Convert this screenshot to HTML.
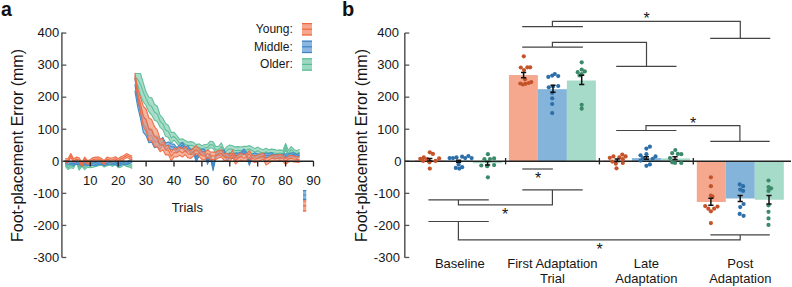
<!DOCTYPE html>
<html><head><meta charset="utf-8"><style>
html,body{margin:0;padding:0;background:#fff;width:792px;height:287px;overflow:hidden}
svg{display:block}
</style></head><body>
<svg width="792" height="287" viewBox="0 0 792 287">
<rect width="792" height="287" fill="#fff"/>
<text x="1" y="15.7" font-size="19.5" font-weight="bold" font-family="Liberation Sans, sans-serif" fill="#111">a</text>
<text x="342" y="15.7" font-size="20" font-weight="bold" font-family="Liberation Sans, sans-serif" fill="#111">b</text>
<text transform="translate(23.4,145.5) rotate(-90)" text-anchor="middle" font-size="16" font-family="Liberation Sans, sans-serif" fill="#161616">Foot-placement Error (mm)</text>
<text transform="translate(366.8,145.5) rotate(-90)" text-anchor="middle" font-size="16" font-family="Liberation Sans, sans-serif" fill="#161616">Foot-placement Error (mm)</text>
<line x1="61.9" y1="32.5" x2="61.9" y2="257.6" stroke="#555" stroke-width="1.5"/>
<line x1="61.9" y1="257.48" x2="66.3" y2="257.48" stroke="#555" stroke-width="1.3"/>
<text x="59.2" y="261.78" text-anchor="end" font-size="13" font-family="Liberation Sans, sans-serif" fill="#161616">-300</text>
<line x1="61.9" y1="225.42" x2="66.3" y2="225.42" stroke="#555" stroke-width="1.3"/>
<text x="59.2" y="229.72" text-anchor="end" font-size="13" font-family="Liberation Sans, sans-serif" fill="#161616">-200</text>
<line x1="61.9" y1="193.36" x2="66.3" y2="193.36" stroke="#555" stroke-width="1.3"/>
<text x="59.2" y="197.66" text-anchor="end" font-size="13" font-family="Liberation Sans, sans-serif" fill="#161616">-100</text>
<line x1="61.9" y1="161.30" x2="66.3" y2="161.30" stroke="#555" stroke-width="1.3"/>
<text x="59.2" y="165.60" text-anchor="end" font-size="13" font-family="Liberation Sans, sans-serif" fill="#161616">0</text>
<line x1="61.9" y1="129.24" x2="66.3" y2="129.24" stroke="#555" stroke-width="1.3"/>
<text x="59.2" y="133.54" text-anchor="end" font-size="13" font-family="Liberation Sans, sans-serif" fill="#161616">100</text>
<line x1="61.9" y1="97.18" x2="66.3" y2="97.18" stroke="#555" stroke-width="1.3"/>
<text x="59.2" y="101.48" text-anchor="end" font-size="13" font-family="Liberation Sans, sans-serif" fill="#161616">200</text>
<line x1="61.9" y1="65.12" x2="66.3" y2="65.12" stroke="#555" stroke-width="1.3"/>
<text x="59.2" y="69.42" text-anchor="end" font-size="13" font-family="Liberation Sans, sans-serif" fill="#161616">300</text>
<line x1="61.9" y1="33.06" x2="66.3" y2="33.06" stroke="#555" stroke-width="1.3"/>
<text x="59.2" y="37.36" text-anchor="end" font-size="13" font-family="Liberation Sans, sans-serif" fill="#161616">400</text>
<polygon points="65.2,161.9 68.0,165.8 70.8,163.9 73.6,164.5 76.3,158.1 79.1,166.4 81.9,162.6 84.7,165.8 87.5,163.2 90.3,163.9 93.1,163.2 95.9,162.6 98.7,161.9 101.5,161.3 104.2,163.2 107.0,161.9 109.8,161.3 112.6,162.6 115.4,160.7 118.2,163.9 121.0,163.2 123.8,161.3 126.6,162.6 129.4,163.2 132.2,164.5 132.2,168.4 129.4,167.1 126.6,166.4 123.8,165.1 121.0,167.1 118.2,167.7 115.4,164.5 112.6,166.4 109.8,165.1 107.0,165.8 104.2,167.1 101.5,165.1 98.7,165.8 95.9,166.4 93.1,167.1 90.3,167.7 87.5,167.1 84.7,169.6 81.9,166.4 79.1,170.3 76.3,161.9 73.6,168.4 70.8,167.7 68.0,169.6 65.2,165.8" fill="#93d4bc" fill-opacity="0.8" stroke="none"/>
<polyline points="65.2,161.9 68.0,165.8 70.8,163.9 73.6,164.5 76.3,158.1 79.1,166.4 81.9,162.6 84.7,165.8 87.5,163.2 90.3,163.9 93.1,163.2 95.9,162.6 98.7,161.9 101.5,161.3 104.2,163.2 107.0,161.9 109.8,161.3 112.6,162.6 115.4,160.7 118.2,163.9 121.0,163.2 123.8,161.3 126.6,162.6 129.4,163.2 132.2,164.5" fill="none" stroke="#5bbd98" stroke-width="1.1" stroke-opacity="0.95" stroke-linejoin="round"/>
<polyline points="65.2,165.8 68.0,169.6 70.8,167.7 73.6,168.4 76.3,161.9 79.1,170.3 81.9,166.4 84.7,169.6 87.5,167.1 90.3,167.7 93.1,167.1 95.9,166.4 98.7,165.8 101.5,165.1 104.2,167.1 107.0,165.8 109.8,165.1 112.6,166.4 115.4,164.5 118.2,167.7 121.0,167.1 123.8,165.1 126.6,166.4 129.4,167.1 132.2,168.4" fill="none" stroke="#5bbd98" stroke-width="1.1" stroke-opacity="0.95" stroke-linejoin="round"/>
<polyline points="65.2,163.9 68.0,167.7 70.8,165.8 73.6,166.4 76.3,160.0 79.1,168.4 81.9,164.5 84.7,167.7 87.5,165.1 90.3,165.8 93.1,165.1 95.9,164.5 98.7,163.9 101.5,163.2 104.2,165.1 107.0,163.9 109.8,163.2 112.6,164.5 115.4,162.6 118.2,165.8 121.0,165.1 123.8,163.2 126.6,164.5 129.4,165.1 132.2,166.4" fill="none" stroke="#5bbd98" stroke-width="1.1" stroke-opacity="0.95" stroke-linejoin="round"/>
<polygon points="134.9,73.5 137.7,73.5 140.5,73.5 143.3,82.8 146.1,92.1 148.9,97.2 151.7,97.8 154.5,104.2 157.3,106.2 160.1,115.1 162.8,118.0 165.6,123.5 168.4,125.4 171.2,132.4 174.0,132.4 176.8,135.5 179.6,139.4 182.4,138.8 185.2,140.5 187.9,142.0 190.7,141.6 193.5,142.3 196.3,144.6 199.1,143.9 201.9,145.8 204.7,144.5 207.5,144.2 210.3,141.2 213.1,141.7 215.8,146.5 218.6,146.4 221.4,142.9 224.2,149.8 227.0,146.6 229.8,144.9 232.6,145.8 235.4,146.9 238.2,146.6 241.0,147.0 243.8,146.3 246.5,146.4 249.3,145.4 252.1,146.9 254.9,148.6 257.7,147.1 260.5,148.8 263.3,149.7 266.1,148.3 268.9,149.9 271.6,149.1 274.4,149.6 277.2,150.3 280.0,149.9 282.8,150.6 285.6,143.5 288.4,150.5 291.2,146.6 294.0,149.4 296.8,150.9 299.6,149.2 299.6,155.0 296.8,156.8 294.0,155.4 291.2,152.6 288.4,156.7 285.6,149.7 282.8,157.0 280.0,156.4 277.2,156.8 274.4,156.3 271.6,155.9 268.9,156.8 266.1,155.3 263.3,156.7 260.5,155.9 257.7,154.2 254.9,155.8 252.1,154.1 249.3,152.7 246.5,153.8 243.8,153.7 241.0,154.5 238.2,154.2 235.4,154.5 232.6,153.4 229.8,152.6 227.0,154.1 224.2,157.2 221.4,150.1 218.6,153.5 215.8,153.4 213.1,148.5 210.3,147.7 207.5,150.6 204.7,151.0 201.9,152.5 199.1,150.7 196.3,151.5 193.5,149.4 190.7,148.8 187.9,149.2 185.2,147.8 182.4,146.2 179.6,146.9 176.8,143.1 174.0,140.1 171.2,143.3 168.4,137.6 165.6,136.3 162.8,129.6 160.1,127.3 157.3,121.5 154.5,120.3 151.7,115.1 148.9,111.9 146.1,105.5 143.3,102.0 140.5,95.3 137.7,85.0 134.9,81.2" fill="#93d4bc" fill-opacity="0.8" stroke="none"/>
<polyline points="134.9,73.5 137.7,73.5 140.5,73.5 143.3,82.8 146.1,92.1 148.9,97.2 151.7,97.8 154.5,104.2 157.3,106.2 160.1,115.1 162.8,118.0 165.6,123.5 168.4,125.4 171.2,132.4 174.0,132.4 176.8,135.5 179.6,139.4 182.4,138.8 185.2,140.5 187.9,142.0 190.7,141.6 193.5,142.3 196.3,144.6 199.1,143.9 201.9,145.8 204.7,144.5 207.5,144.2 210.3,141.2 213.1,141.7 215.8,146.5 218.6,146.4 221.4,142.9 224.2,149.8 227.0,146.6 229.8,144.9 232.6,145.8 235.4,146.9 238.2,146.6 241.0,147.0 243.8,146.3 246.5,146.4 249.3,145.4 252.1,146.9 254.9,148.6 257.7,147.1 260.5,148.8 263.3,149.7 266.1,148.3 268.9,149.9 271.6,149.1 274.4,149.6 277.2,150.3 280.0,149.9 282.8,150.6 285.6,143.5 288.4,150.5 291.2,146.6 294.0,149.4 296.8,150.9 299.6,149.2" fill="none" stroke="#5bbd98" stroke-width="1.1" stroke-opacity="0.95" stroke-linejoin="round"/>
<polyline points="134.9,81.2 137.7,85.0 140.5,95.3 143.3,102.0 146.1,105.5 148.9,111.9 151.7,115.1 154.5,120.3 157.3,121.5 160.1,127.3 162.8,129.6 165.6,136.3 168.4,137.6 171.2,143.3 174.0,140.1 176.8,143.1 179.6,146.9 182.4,146.2 185.2,147.8 187.9,149.2 190.7,148.8 193.5,149.4 196.3,151.5 199.1,150.7 201.9,152.5 204.7,151.0 207.5,150.6 210.3,147.7 213.1,148.5 215.8,153.4 218.6,153.5 221.4,150.1 224.2,157.2 227.0,154.1 229.8,152.6 232.6,153.4 235.4,154.5 238.2,154.2 241.0,154.5 243.8,153.7 246.5,153.8 249.3,152.7 252.1,154.1 254.9,155.8 257.7,154.2 260.5,155.9 263.3,156.7 266.1,155.3 268.9,156.8 271.6,155.9 274.4,156.3 277.2,156.8 280.0,156.4 282.8,157.0 285.6,149.7 288.4,156.7 291.2,152.6 294.0,155.4 296.8,156.8 299.6,155.0" fill="none" stroke="#5bbd98" stroke-width="1.1" stroke-opacity="0.95" stroke-linejoin="round"/>
<polyline points="134.9,77.3 137.7,79.2 140.5,84.4 143.3,92.4 146.1,98.8 148.9,104.6 151.7,106.5 154.5,112.2 157.3,113.9 160.1,121.2 162.8,123.8 165.6,129.9 168.4,131.5 171.2,137.9 174.0,136.3 176.8,139.3 179.6,143.1 182.4,142.5 185.2,144.2 187.9,145.6 190.7,145.2 193.5,145.8 196.3,148.0 199.1,147.3 201.9,149.2 204.7,147.8 207.5,147.4 210.3,144.5 213.1,145.1 215.8,149.9 218.6,149.9 221.4,146.5 224.2,153.5 227.0,150.3 229.8,148.8 232.6,149.6 235.4,150.7 238.2,150.4 241.0,150.8 243.8,150.0 246.5,150.1 249.3,149.1 252.1,150.5 254.9,152.2 257.7,150.7 260.5,152.4 263.3,153.2 266.1,151.8 268.9,153.4 271.6,152.5 274.4,153.0 277.2,153.5 280.0,153.1 282.8,153.8 285.6,146.6 288.4,153.6 291.2,149.6 294.0,152.4 296.8,153.8 299.6,152.1" fill="none" stroke="#5bbd98" stroke-width="1.1" stroke-opacity="0.95" stroke-linejoin="round"/>
<polygon points="65.2,160.3 68.0,161.0 70.8,161.6 73.6,162.3 76.3,161.0 79.1,161.6 81.9,162.9 84.7,161.3 87.5,162.3 90.3,161.9 93.1,162.3 95.9,162.6 98.7,161.6 101.5,161.0 104.2,162.6 107.0,161.6 109.8,160.7 112.6,161.6 115.4,161.3 118.2,163.2 121.0,161.9 123.8,161.0 126.6,161.6 129.4,160.3 132.2,159.1 132.2,162.3 129.4,163.5 126.6,164.8 123.8,164.2 121.0,165.1 118.2,166.4 115.4,164.5 112.6,164.8 109.8,163.9 107.0,164.8 104.2,165.8 101.5,164.2 98.7,164.8 95.9,165.8 93.1,165.5 90.3,165.1 87.5,165.5 84.7,164.5 81.9,166.1 79.1,164.8 76.3,164.2 73.6,165.5 70.8,164.8 68.0,164.2 65.2,163.5" fill="#7eb0dc" fill-opacity="0.8" stroke="none"/>
<polyline points="65.2,160.3 68.0,161.0 70.8,161.6 73.6,162.3 76.3,161.0 79.1,161.6 81.9,162.9 84.7,161.3 87.5,162.3 90.3,161.9 93.1,162.3 95.9,162.6 98.7,161.6 101.5,161.0 104.2,162.6 107.0,161.6 109.8,160.7 112.6,161.6 115.4,161.3 118.2,163.2 121.0,161.9 123.8,161.0 126.6,161.6 129.4,160.3 132.2,159.1" fill="none" stroke="#3a86c6" stroke-width="1.1" stroke-opacity="0.95" stroke-linejoin="round"/>
<polyline points="65.2,163.5 68.0,164.2 70.8,164.8 73.6,165.5 76.3,164.2 79.1,164.8 81.9,166.1 84.7,164.5 87.5,165.5 90.3,165.1 93.1,165.5 95.9,165.8 98.7,164.8 101.5,164.2 104.2,165.8 107.0,164.8 109.8,163.9 112.6,164.8 115.4,164.5 118.2,166.4 121.0,165.1 123.8,164.2 126.6,164.8 129.4,163.5 132.2,162.3" fill="none" stroke="#3a86c6" stroke-width="1.1" stroke-opacity="0.95" stroke-linejoin="round"/>
<polyline points="65.2,161.9 68.0,162.6 70.8,163.2 73.6,163.9 76.3,162.6 79.1,163.2 81.9,164.5 84.7,162.9 87.5,163.9 90.3,163.5 93.1,163.9 95.9,164.2 98.7,163.2 101.5,162.6 104.2,164.2 107.0,163.2 109.8,162.3 112.6,163.2 115.4,162.9 118.2,164.8 121.0,163.5 123.8,162.6 126.6,163.2 129.4,161.9 132.2,160.7" fill="none" stroke="#3a86c6" stroke-width="1.1" stroke-opacity="0.95" stroke-linejoin="round"/>
<polygon points="134.9,77.9 137.7,94.0 140.5,104.6 143.3,116.4 146.1,119.6 148.9,128.6 151.7,129.2 154.5,136.3 157.3,136.0 160.1,140.5 162.8,137.3 165.6,143.0 168.4,141.9 171.2,144.0 174.0,144.1 176.8,147.6 179.6,145.1 182.4,142.4 185.2,147.1 187.9,145.5 190.7,149.7 193.5,148.9 196.3,156.8 199.1,150.9 201.9,149.1 204.7,149.4 207.5,159.6 210.3,153.0 213.1,165.9 215.8,153.1 218.6,150.7 221.4,151.3 224.2,150.0 227.0,156.6 229.8,153.3 232.6,154.0 235.4,152.9 238.2,153.1 241.0,152.2 243.8,149.0 246.5,152.2 249.3,161.1 252.1,154.0 254.9,153.1 257.7,154.0 260.5,154.0 263.3,153.7 266.1,153.2 268.9,153.1 271.6,152.7 274.4,155.0 277.2,154.2 280.0,155.0 282.8,154.1 285.6,153.9 288.4,154.3 291.2,153.1 294.0,152.7 296.8,154.7 299.6,152.9 299.6,156.8 296.8,158.5 294.0,156.6 291.2,157.1 288.4,158.2 285.6,157.9 282.8,158.1 280.0,159.1 277.2,158.3 274.4,159.1 271.6,156.8 268.9,157.3 266.1,157.4 263.3,157.9 260.5,158.2 257.7,158.3 254.9,157.4 252.1,158.4 249.3,165.4 246.5,156.6 243.8,153.4 241.0,156.6 238.2,157.6 235.4,157.4 232.6,158.5 229.8,157.9 227.0,161.2 224.2,154.6 221.4,156.0 218.6,155.4 215.8,157.9 213.1,170.6 210.3,157.8 207.5,164.4 204.7,154.2 201.9,153.9 199.1,155.8 196.3,161.7 193.5,153.9 190.7,154.6 187.9,150.5 185.2,152.1 182.4,147.5 179.6,150.2 176.8,152.7 174.0,149.6 171.2,149.8 168.4,148.0 165.6,149.4 162.8,144.9 160.1,149.4 157.3,146.2 154.5,147.8 151.7,142.1 148.9,142.7 146.1,135.7 143.3,132.4 140.5,118.7 137.7,106.8 134.9,90.8" fill="#7eb0dc" fill-opacity="0.8" stroke="none"/>
<polyline points="134.9,77.9 137.7,94.0 140.5,104.6 143.3,116.4 146.1,119.6 148.9,128.6 151.7,129.2 154.5,136.3 157.3,136.0 160.1,140.5 162.8,137.3 165.6,143.0 168.4,141.9 171.2,144.0 174.0,144.1 176.8,147.6 179.6,145.1 182.4,142.4 185.2,147.1 187.9,145.5 190.7,149.7 193.5,148.9 196.3,156.8 199.1,150.9 201.9,149.1 204.7,149.4 207.5,159.6 210.3,153.0 213.1,165.9 215.8,153.1 218.6,150.7 221.4,151.3 224.2,150.0 227.0,156.6 229.8,153.3 232.6,154.0 235.4,152.9 238.2,153.1 241.0,152.2 243.8,149.0 246.5,152.2 249.3,161.1 252.1,154.0 254.9,153.1 257.7,154.0 260.5,154.0 263.3,153.7 266.1,153.2 268.9,153.1 271.6,152.7 274.4,155.0 277.2,154.2 280.0,155.0 282.8,154.1 285.6,153.9 288.4,154.3 291.2,153.1 294.0,152.7 296.8,154.7 299.6,152.9" fill="none" stroke="#3a86c6" stroke-width="1.1" stroke-opacity="0.95" stroke-linejoin="round"/>
<polyline points="134.9,90.8 137.7,106.8 140.5,118.7 143.3,132.4 146.1,135.7 148.9,142.7 151.7,142.1 154.5,147.8 157.3,146.2 160.1,149.4 162.8,144.9 165.6,149.4 168.4,148.0 171.2,149.8 174.0,149.6 176.8,152.7 179.6,150.2 182.4,147.5 185.2,152.1 187.9,150.5 190.7,154.6 193.5,153.9 196.3,161.7 199.1,155.8 201.9,153.9 204.7,154.2 207.5,164.4 210.3,157.8 213.1,170.6 215.8,157.9 218.6,155.4 221.4,156.0 224.2,154.6 227.0,161.2 229.8,157.9 232.6,158.5 235.4,157.4 238.2,157.6 241.0,156.6 243.8,153.4 246.5,156.6 249.3,165.4 252.1,158.4 254.9,157.4 257.7,158.3 260.5,158.2 263.3,157.9 266.1,157.4 268.9,157.3 271.6,156.8 274.4,159.1 277.2,158.3 280.0,159.1 282.8,158.1 285.6,157.9 288.4,158.2 291.2,157.1 294.0,156.6 296.8,158.5 299.6,156.8" fill="none" stroke="#3a86c6" stroke-width="1.1" stroke-opacity="0.95" stroke-linejoin="round"/>
<polyline points="134.9,84.4 137.7,100.4 140.5,111.6 143.3,124.4 146.1,127.6 148.9,135.7 151.7,135.7 154.5,142.1 157.3,141.1 160.1,144.9 162.8,141.1 165.6,146.2 168.4,144.9 171.2,146.9 174.0,146.9 176.8,150.2 179.6,147.7 182.4,145.0 185.2,149.6 187.9,148.0 190.7,152.2 193.5,151.4 196.3,159.2 199.1,153.4 201.9,151.5 204.7,151.8 207.5,162.0 210.3,155.4 213.1,168.2 215.8,155.5 218.6,153.1 221.4,153.6 224.2,152.3 227.0,158.9 229.8,155.6 232.6,156.2 235.4,155.2 238.2,155.3 241.0,154.4 243.8,151.2 246.5,154.4 249.3,163.2 252.1,156.2 254.9,155.2 257.7,156.2 260.5,156.1 263.3,155.8 266.1,155.3 268.9,155.2 271.6,154.7 274.4,157.1 277.2,156.3 280.0,157.0 282.8,156.1 285.6,155.9 288.4,156.2 291.2,155.1 294.0,154.6 296.8,156.6 299.6,154.8" fill="none" stroke="#3a86c6" stroke-width="1.1" stroke-opacity="0.95" stroke-linejoin="round"/>
<polygon points="65.2,158.7 68.0,158.7 70.8,153.6 73.6,158.7 76.3,157.1 79.1,157.8 81.9,162.6 84.7,157.1 87.5,160.7 90.3,159.4 93.1,157.5 95.9,157.1 98.7,157.1 101.5,158.4 104.2,160.7 107.0,157.1 109.8,158.1 112.6,157.8 115.4,156.8 118.2,158.7 121.0,156.8 123.8,155.5 126.6,153.6 129.4,154.9 132.2,156.2 132.2,160.0 129.4,158.7 126.6,157.5 123.8,159.4 121.0,160.7 118.2,162.6 115.4,160.7 112.6,161.6 109.8,161.9 107.0,161.0 104.2,164.5 101.5,162.3 98.7,161.0 95.9,161.0 93.1,161.3 90.3,163.2 87.5,164.5 84.7,161.0 81.9,166.4 79.1,161.6 76.3,161.0 73.6,162.6 70.8,157.5 68.0,162.6 65.2,162.6" fill="#f29676" fill-opacity="0.7" stroke="none"/>
<polyline points="65.2,158.7 68.0,158.7 70.8,153.6 73.6,158.7 76.3,157.1 79.1,157.8 81.9,162.6 84.7,157.1 87.5,160.7 90.3,159.4 93.1,157.5 95.9,157.1 98.7,157.1 101.5,158.4 104.2,160.7 107.0,157.1 109.8,158.1 112.6,157.8 115.4,156.8 118.2,158.7 121.0,156.8 123.8,155.5 126.6,153.6 129.4,154.9 132.2,156.2" fill="none" stroke="#ee6a43" stroke-width="1.1" stroke-opacity="0.95" stroke-linejoin="round"/>
<polyline points="65.2,162.6 68.0,162.6 70.8,157.5 73.6,162.6 76.3,161.0 79.1,161.6 81.9,166.4 84.7,161.0 87.5,164.5 90.3,163.2 93.1,161.3 95.9,161.0 98.7,161.0 101.5,162.3 104.2,164.5 107.0,161.0 109.8,161.9 112.6,161.6 115.4,160.7 118.2,162.6 121.0,160.7 123.8,159.4 126.6,157.5 129.4,158.7 132.2,160.0" fill="none" stroke="#ee6a43" stroke-width="1.1" stroke-opacity="0.95" stroke-linejoin="round"/>
<polyline points="65.2,160.7 68.0,160.7 70.8,155.5 73.6,160.7 76.3,159.1 79.1,159.7 81.9,164.5 84.7,159.1 87.5,162.6 90.3,161.3 93.1,159.4 95.9,159.1 98.7,159.1 101.5,160.3 104.2,162.6 107.0,159.1 109.8,160.0 112.6,159.7 115.4,158.7 118.2,160.7 121.0,158.7 123.8,157.5 126.6,155.5 129.4,156.8 132.2,158.1" fill="none" stroke="#ee6a43" stroke-width="1.1" stroke-opacity="0.95" stroke-linejoin="round"/>
<polygon points="134.9,72.8 137.7,88.8 140.5,97.5 143.3,106.2 146.1,109.0 148.9,118.0 151.7,119.6 154.5,126.7 157.3,130.2 160.1,138.9 162.8,138.9 165.6,145.3 168.4,145.6 171.2,152.1 174.0,148.4 176.8,148.7 179.6,147.0 182.4,148.9 185.2,146.4 187.9,149.7 190.7,150.5 193.5,148.0 196.3,145.5 199.1,148.8 201.9,151.7 204.7,152.3 207.5,149.6 210.3,152.0 213.1,152.1 215.8,152.1 218.6,150.6 221.4,149.7 224.2,153.5 227.0,153.4 229.8,155.0 232.6,150.1 235.4,157.0 238.2,154.5 241.0,153.1 243.8,154.8 246.5,153.6 249.3,150.6 252.1,155.0 254.9,156.0 257.7,155.1 260.5,153.9 263.3,152.8 266.1,158.7 268.9,156.7 271.6,155.1 274.4,155.1 277.2,154.9 280.0,154.5 282.8,155.1 285.6,158.5 288.4,156.0 291.2,155.3 294.0,156.1 296.8,156.5 299.6,156.8 299.6,162.6 296.8,162.3 294.0,162.0 291.2,161.3 288.4,162.0 285.6,164.5 282.8,161.2 280.0,160.6 277.2,161.1 274.4,161.3 271.6,161.4 268.9,163.1 266.1,165.1 263.3,159.2 260.5,160.4 257.7,161.7 254.9,162.6 252.1,161.6 249.3,157.3 246.5,160.4 243.8,161.6 241.0,160.0 238.2,161.4 235.4,164.0 232.6,157.1 229.8,162.0 227.0,160.5 224.2,160.7 221.4,156.9 218.6,157.9 215.8,159.5 213.1,159.6 210.3,159.5 207.5,157.2 204.7,160.0 201.9,159.4 199.1,156.6 196.3,153.4 193.5,155.9 190.7,158.5 187.9,157.8 185.2,154.5 182.4,157.1 179.6,155.2 176.8,157.0 174.0,156.9 171.2,160.9 168.4,154.6 165.6,154.9 162.8,149.8 160.1,151.7 157.3,146.9 154.5,146.6 151.7,140.8 148.9,140.5 146.1,130.8 143.3,126.7 140.5,111.6 137.7,97.8 134.9,77.9" fill="#f29676" fill-opacity="0.7" stroke="none"/>
<polyline points="134.9,72.8 137.7,88.8 140.5,97.5 143.3,106.2 146.1,109.0 148.9,118.0 151.7,119.6 154.5,126.7 157.3,130.2 160.1,138.9 162.8,138.9 165.6,145.3 168.4,145.6 171.2,152.1 174.0,148.4 176.8,148.7 179.6,147.0 182.4,148.9 185.2,146.4 187.9,149.7 190.7,150.5 193.5,148.0 196.3,145.5 199.1,148.8 201.9,151.7 204.7,152.3 207.5,149.6 210.3,152.0 213.1,152.1 215.8,152.1 218.6,150.6 221.4,149.7 224.2,153.5 227.0,153.4 229.8,155.0 232.6,150.1 235.4,157.0 238.2,154.5 241.0,153.1 243.8,154.8 246.5,153.6 249.3,150.6 252.1,155.0 254.9,156.0 257.7,155.1 260.5,153.9 263.3,152.8 266.1,158.7 268.9,156.7 271.6,155.1 274.4,155.1 277.2,154.9 280.0,154.5 282.8,155.1 285.6,158.5 288.4,156.0 291.2,155.3 294.0,156.1 296.8,156.5 299.6,156.8" fill="none" stroke="#ee6a43" stroke-width="1.1" stroke-opacity="0.95" stroke-linejoin="round"/>
<polyline points="134.9,77.9 137.7,97.8 140.5,111.6 143.3,126.7 146.1,130.8 148.9,140.5 151.7,140.8 154.5,146.6 157.3,146.9 160.1,151.7 162.8,149.8 165.6,154.9 168.4,154.6 171.2,160.9 174.0,156.9 176.8,157.0 179.6,155.2 182.4,157.1 185.2,154.5 187.9,157.8 190.7,158.5 193.5,155.9 196.3,153.4 199.1,156.6 201.9,159.4 204.7,160.0 207.5,157.2 210.3,159.5 213.1,159.6 215.8,159.5 218.6,157.9 221.4,156.9 224.2,160.7 227.0,160.5 229.8,162.0 232.6,157.1 235.4,164.0 238.2,161.4 241.0,160.0 243.8,161.6 246.5,160.4 249.3,157.3 252.1,161.6 254.9,162.6 257.7,161.7 260.5,160.4 263.3,159.2 266.1,165.1 268.9,163.1 271.6,161.4 274.4,161.3 277.2,161.1 280.0,160.6 282.8,161.2 285.6,164.5 288.4,162.0 291.2,161.3 294.0,162.0 296.8,162.3 299.6,162.6" fill="none" stroke="#ee6a43" stroke-width="1.1" stroke-opacity="0.95" stroke-linejoin="round"/>
<polyline points="134.9,75.4 137.7,93.3 140.5,104.6 143.3,116.4 146.1,119.9 148.9,129.2 151.7,130.2 154.5,136.6 157.3,138.5 160.1,145.3 162.8,144.3 165.6,150.1 168.4,150.1 171.2,156.5 174.0,152.6 176.8,152.8 179.6,151.1 182.4,153.0 185.2,150.4 187.9,153.7 190.7,154.5 193.5,151.9 196.3,149.5 199.1,152.7 201.9,155.6 204.7,156.1 207.5,153.4 210.3,155.7 213.1,155.9 215.8,155.8 218.6,154.3 221.4,153.3 224.2,157.1 227.0,157.0 229.8,158.5 232.6,153.6 235.4,160.5 238.2,158.0 241.0,156.6 243.8,158.2 246.5,157.0 249.3,153.9 252.1,158.3 254.9,159.3 257.7,158.4 260.5,157.1 263.3,156.0 266.1,161.9 268.9,159.9 271.6,158.2 274.4,158.2 277.2,158.0 280.0,157.5 282.8,158.2 285.6,161.5 288.4,159.0 291.2,158.3 294.0,159.0 296.8,159.4 299.6,159.7" fill="none" stroke="#ee6a43" stroke-width="1.1" stroke-opacity="0.95" stroke-linejoin="round"/>
<line x1="63.5" y1="161.2" x2="313.5" y2="161.2" stroke="#222" stroke-width="1.4"/>
<line x1="90.30" y1="161.2" x2="90.30" y2="166.5" stroke="#222" stroke-width="1.3"/>
<text x="90.30" y="184.5" text-anchor="middle" font-size="13" font-family="Liberation Sans, sans-serif" fill="#161616">10</text>
<line x1="118.20" y1="161.2" x2="118.20" y2="166.5" stroke="#222" stroke-width="1.3"/>
<text x="118.20" y="184.5" text-anchor="middle" font-size="13" font-family="Liberation Sans, sans-serif" fill="#161616">20</text>
<line x1="146.10" y1="161.2" x2="146.10" y2="166.5" stroke="#222" stroke-width="1.3"/>
<text x="146.10" y="184.5" text-anchor="middle" font-size="13" font-family="Liberation Sans, sans-serif" fill="#161616">30</text>
<line x1="174.00" y1="161.2" x2="174.00" y2="166.5" stroke="#222" stroke-width="1.3"/>
<text x="174.00" y="184.5" text-anchor="middle" font-size="13" font-family="Liberation Sans, sans-serif" fill="#161616">40</text>
<line x1="201.90" y1="161.2" x2="201.90" y2="166.5" stroke="#222" stroke-width="1.3"/>
<text x="201.90" y="184.5" text-anchor="middle" font-size="13" font-family="Liberation Sans, sans-serif" fill="#161616">50</text>
<line x1="229.80" y1="161.2" x2="229.80" y2="166.5" stroke="#222" stroke-width="1.3"/>
<text x="229.80" y="184.5" text-anchor="middle" font-size="13" font-family="Liberation Sans, sans-serif" fill="#161616">60</text>
<line x1="257.70" y1="161.2" x2="257.70" y2="166.5" stroke="#222" stroke-width="1.3"/>
<text x="257.70" y="184.5" text-anchor="middle" font-size="13" font-family="Liberation Sans, sans-serif" fill="#161616">70</text>
<line x1="285.60" y1="161.2" x2="285.60" y2="166.5" stroke="#222" stroke-width="1.3"/>
<text x="285.60" y="184.5" text-anchor="middle" font-size="13" font-family="Liberation Sans, sans-serif" fill="#161616">80</text>
<line x1="313.50" y1="161.2" x2="313.50" y2="166.5" stroke="#222" stroke-width="1.3"/>
<text x="313.50" y="184.5" text-anchor="middle" font-size="13" font-family="Liberation Sans, sans-serif" fill="#161616">90</text>
<text x="187.3" y="212.1" text-anchor="middle" font-size="13" font-family="Liberation Sans, sans-serif" fill="#161616">Trials</text>
<rect x="303" y="190" width="3.2" height="10" fill="#86b6dd"/>
<path d="M303,190.6 H306.2 M303,195 H306.2 M303,199.4 H306.2" stroke="#3a86c6" stroke-width="1.1"/>
<rect x="303" y="200" width="3.2" height="11.6" fill="#f5a68c"/>
<path d="M303,201 H306.2 M303,205.9 H306.2 M303,210.9 H306.2" stroke="#ee6a43" stroke-width="1.1"/>
<text x="292.8" y="33.30" text-anchor="end" font-size="12" font-family="Liberation Sans, sans-serif" fill="#161616">Young:</text>
<rect x="302" y="23.0" width="10" height="12.5" fill="#f5a68c"/>
<line x1="302" y1="23.6" x2="312" y2="23.6" stroke="#ee6a43" stroke-width="1.2"/>
<line x1="302" y1="29.2" x2="312" y2="29.2" stroke="#ee6a43" stroke-width="1.2"/>
<line x1="302" y1="34.9" x2="312" y2="34.9" stroke="#ee6a43" stroke-width="1.2"/>
<text x="292.8" y="50.65" text-anchor="end" font-size="12" font-family="Liberation Sans, sans-serif" fill="#161616">Middle:</text>
<rect x="302" y="40.6" width="10" height="12.5" fill="#8cb6dd"/>
<line x1="302" y1="41.2" x2="312" y2="41.2" stroke="#3a86c6" stroke-width="1.2"/>
<line x1="302" y1="46.8" x2="312" y2="46.8" stroke="#3a86c6" stroke-width="1.2"/>
<line x1="302" y1="52.5" x2="312" y2="52.5" stroke="#3a86c6" stroke-width="1.2"/>
<text x="292.8" y="68.00" text-anchor="end" font-size="12" font-family="Liberation Sans, sans-serif" fill="#161616">Older:</text>
<rect x="302" y="58.2" width="10" height="12.5" fill="#9dd8c2"/>
<line x1="302" y1="58.8" x2="312" y2="58.8" stroke="#5bbd98" stroke-width="1.2"/>
<line x1="302" y1="64.4" x2="312" y2="64.4" stroke="#5bbd98" stroke-width="1.2"/>
<line x1="302" y1="70.1" x2="312" y2="70.1" stroke="#5bbd98" stroke-width="1.2"/>
<line x1="404.8" y1="33" x2="404.8" y2="257.8" stroke="#555" stroke-width="1.5"/>
<line x1="404.8" y1="257.48" x2="409.3" y2="257.48" stroke="#555" stroke-width="1.3"/>
<text x="399.9" y="261.78" text-anchor="end" font-size="13" font-family="Liberation Sans, sans-serif" fill="#161616">-300</text>
<line x1="404.8" y1="225.42" x2="409.3" y2="225.42" stroke="#555" stroke-width="1.3"/>
<text x="399.9" y="229.72" text-anchor="end" font-size="13" font-family="Liberation Sans, sans-serif" fill="#161616">-200</text>
<line x1="404.8" y1="193.36" x2="409.3" y2="193.36" stroke="#555" stroke-width="1.3"/>
<text x="399.9" y="197.66" text-anchor="end" font-size="13" font-family="Liberation Sans, sans-serif" fill="#161616">-100</text>
<line x1="404.8" y1="161.30" x2="409.3" y2="161.30" stroke="#555" stroke-width="1.3"/>
<text x="401.4" y="165.60" text-anchor="end" font-size="13" font-family="Liberation Sans, sans-serif" fill="#161616">0</text>
<line x1="404.8" y1="129.24" x2="409.3" y2="129.24" stroke="#555" stroke-width="1.3"/>
<text x="398.9" y="133.54" text-anchor="end" font-size="13" font-family="Liberation Sans, sans-serif" fill="#161616">100</text>
<line x1="404.8" y1="97.18" x2="409.3" y2="97.18" stroke="#555" stroke-width="1.3"/>
<text x="398.9" y="101.48" text-anchor="end" font-size="13" font-family="Liberation Sans, sans-serif" fill="#161616">200</text>
<line x1="404.8" y1="65.12" x2="409.3" y2="65.12" stroke="#555" stroke-width="1.3"/>
<text x="398.9" y="69.42" text-anchor="end" font-size="13" font-family="Liberation Sans, sans-serif" fill="#161616">300</text>
<line x1="404.8" y1="33.06" x2="409.3" y2="33.06" stroke="#555" stroke-width="1.3"/>
<text x="398.9" y="37.36" text-anchor="end" font-size="13" font-family="Liberation Sans, sans-serif" fill="#161616">400</text>
<rect x="414.9" y="160.34" width="29" height="0.96" fill="#f5a88e"/>
<rect x="443.9" y="160.66" width="29" height="0.80" fill="#84b4d9"/>
<rect x="472.9" y="161.30" width="29" height="1.92" fill="#a6dbc9"/>
<rect x="508.9" y="75.06" width="29" height="86.24" fill="#f5a88e"/>
<rect x="537.9" y="89.17" width="29" height="72.14" fill="#84b4d9"/>
<rect x="566.9" y="80.51" width="29" height="80.79" fill="#a6dbc9"/>
<rect x="602.9" y="160.66" width="29" height="0.80" fill="#f5a88e"/>
<rect x="631.9" y="158.09" width="29" height="3.21" fill="#84b4d9"/>
<rect x="660.9" y="158.41" width="29" height="2.89" fill="#a6dbc9"/>
<rect x="696.8" y="161.30" width="29" height="40.72" fill="#f5a88e"/>
<rect x="725.8" y="161.30" width="29" height="37.19" fill="#84b4d9"/>
<rect x="754.8" y="161.30" width="29" height="38.47" fill="#a6dbc9"/>
<line x1="405" y1="161.2" x2="791" y2="161.2" stroke="#222" stroke-width="1.4"/>
<line x1="505.6" y1="158" x2="505.6" y2="164.4" stroke="#222" stroke-width="1.3"/>
<line x1="599.4" y1="158" x2="599.4" y2="164.4" stroke="#222" stroke-width="1.3"/>
<line x1="693.3" y1="158" x2="693.3" y2="164.4" stroke="#222" stroke-width="1.3"/>
<circle cx="429.8" cy="152.3" r="2.1" fill="#c5532a"/>
<circle cx="432.9" cy="153.9" r="2.1" fill="#c5532a"/>
<circle cx="420.3" cy="158.8" r="2.1" fill="#c5532a"/>
<circle cx="423.8" cy="157.4" r="2.1" fill="#c5532a"/>
<circle cx="423.1" cy="160.9" r="2.1" fill="#c5532a"/>
<circle cx="429.4" cy="162.3" r="2.1" fill="#c5532a"/>
<circle cx="435.6" cy="160.9" r="2.1" fill="#c5532a"/>
<circle cx="439.1" cy="158.4" r="2.1" fill="#c5532a"/>
<circle cx="429.8" cy="168.6" r="2.1" fill="#c5532a"/>
<circle cx="427" cy="159" r="2.1" fill="#c5532a"/>
<circle cx="523.8" cy="56.3" r="2.1" fill="#c5532a"/>
<circle cx="520.8" cy="67.5" r="2.1" fill="#c5532a"/>
<circle cx="524" cy="70.1" r="2.1" fill="#c5532a"/>
<circle cx="527.4" cy="67.3" r="2.1" fill="#c5532a"/>
<circle cx="530.2" cy="67.3" r="2.1" fill="#c5532a"/>
<circle cx="525" cy="79.3" r="2.1" fill="#c5532a"/>
<circle cx="520.3" cy="83.5" r="2.1" fill="#c5532a"/>
<circle cx="522.9" cy="84.5" r="2.1" fill="#c5532a"/>
<circle cx="525.5" cy="83.8" r="2.1" fill="#c5532a"/>
<circle cx="528.7" cy="83" r="2.1" fill="#c5532a"/>
<circle cx="531.3" cy="82.1" r="2.1" fill="#c5532a"/>
<circle cx="609.8" cy="157.8" r="2.1" fill="#c5532a"/>
<circle cx="613.4" cy="156.4" r="2.1" fill="#c5532a"/>
<circle cx="619.3" cy="157.4" r="2.1" fill="#c5532a"/>
<circle cx="622.3" cy="154.6" r="2.1" fill="#c5532a"/>
<circle cx="625.6" cy="156.4" r="2.1" fill="#c5532a"/>
<circle cx="622.8" cy="159.2" r="2.1" fill="#c5532a"/>
<circle cx="612.3" cy="161.6" r="2.1" fill="#c5532a"/>
<circle cx="615.8" cy="163.7" r="2.1" fill="#c5532a"/>
<circle cx="622.8" cy="163" r="2.1" fill="#c5532a"/>
<circle cx="616.5" cy="168.3" r="2.1" fill="#c5532a"/>
<circle cx="710.9" cy="177.3" r="2.1" fill="#c5532a"/>
<circle cx="710.9" cy="186.2" r="2.1" fill="#c5532a"/>
<circle cx="710.9" cy="195.6" r="2.1" fill="#c5532a"/>
<circle cx="705.2" cy="206.1" r="2.1" fill="#c5532a"/>
<circle cx="708.3" cy="208.7" r="2.1" fill="#c5532a"/>
<circle cx="710.9" cy="211.3" r="2.1" fill="#c5532a"/>
<circle cx="714.1" cy="208.7" r="2.1" fill="#c5532a"/>
<circle cx="717.5" cy="206.6" r="2.1" fill="#c5532a"/>
<circle cx="710.9" cy="223.1" r="2.1" fill="#c5532a"/>
<circle cx="712.5" cy="196.5" r="2.1" fill="#c5532a"/>
<circle cx="449.6" cy="158.1" r="2.1" fill="#2c6fa9"/>
<circle cx="453" cy="158.1" r="2.1" fill="#2c6fa9"/>
<circle cx="456.5" cy="157.4" r="2.1" fill="#2c6fa9"/>
<circle cx="462.1" cy="156.7" r="2.1" fill="#2c6fa9"/>
<circle cx="465.2" cy="158.1" r="2.1" fill="#2c6fa9"/>
<circle cx="468.4" cy="156" r="2.1" fill="#2c6fa9"/>
<circle cx="471.6" cy="158.1" r="2.1" fill="#2c6fa9"/>
<circle cx="458.6" cy="164.4" r="2.1" fill="#2c6fa9"/>
<circle cx="455.8" cy="167.9" r="2.1" fill="#2c6fa9"/>
<circle cx="459.3" cy="168.6" r="2.1" fill="#2c6fa9"/>
<circle cx="462.1" cy="167.2" r="2.1" fill="#2c6fa9"/>
<circle cx="548.3" cy="76.9" r="2.1" fill="#2c6fa9"/>
<circle cx="552.2" cy="75.6" r="2.1" fill="#2c6fa9"/>
<circle cx="554.8" cy="74" r="2.1" fill="#2c6fa9"/>
<circle cx="558.2" cy="76.1" r="2.1" fill="#2c6fa9"/>
<circle cx="548.8" cy="87.3" r="2.1" fill="#2c6fa9"/>
<circle cx="553" cy="86.5" r="2.1" fill="#2c6fa9"/>
<circle cx="558.2" cy="86" r="2.1" fill="#2c6fa9"/>
<circle cx="552.2" cy="93" r="2.1" fill="#2c6fa9"/>
<circle cx="552.2" cy="98.3" r="2.1" fill="#2c6fa9"/>
<circle cx="552.2" cy="104" r="2.1" fill="#2c6fa9"/>
<circle cx="552.2" cy="113.1" r="2.1" fill="#2c6fa9"/>
<circle cx="646.4" cy="148.6" r="2.1" fill="#2c6fa9"/>
<circle cx="649.9" cy="146.7" r="2.1" fill="#2c6fa9"/>
<circle cx="640.5" cy="155.3" r="2.1" fill="#2c6fa9"/>
<circle cx="646.4" cy="154.2" r="2.1" fill="#2c6fa9"/>
<circle cx="655.5" cy="156.4" r="2.1" fill="#2c6fa9"/>
<circle cx="652.7" cy="158.8" r="2.1" fill="#2c6fa9"/>
<circle cx="640.5" cy="160.6" r="2.1" fill="#2c6fa9"/>
<circle cx="646.4" cy="165.8" r="2.1" fill="#2c6fa9"/>
<circle cx="649.9" cy="164.4" r="2.1" fill="#2c6fa9"/>
<circle cx="643" cy="158" r="2.1" fill="#2c6fa9"/>
<circle cx="739.7" cy="184.4" r="2.1" fill="#2c6fa9"/>
<circle cx="743.1" cy="186.2" r="2.1" fill="#2c6fa9"/>
<circle cx="740.2" cy="189.6" r="2.1" fill="#2c6fa9"/>
<circle cx="743.1" cy="190.9" r="2.1" fill="#2c6fa9"/>
<circle cx="743.6" cy="204" r="2.1" fill="#2c6fa9"/>
<circle cx="740.2" cy="207.1" r="2.1" fill="#2c6fa9"/>
<circle cx="739.7" cy="213.9" r="2.1" fill="#2c6fa9"/>
<circle cx="743.6" cy="215.8" r="2.1" fill="#2c6fa9"/>
<circle cx="487.9" cy="154.2" r="2.1" fill="#3b8a6b"/>
<circle cx="484.4" cy="159.2" r="2.1" fill="#3b8a6b"/>
<circle cx="494.1" cy="158.4" r="2.1" fill="#3b8a6b"/>
<circle cx="481.3" cy="165.5" r="2.1" fill="#3b8a6b"/>
<circle cx="487.2" cy="166.2" r="2.1" fill="#3b8a6b"/>
<circle cx="494.1" cy="165.1" r="2.1" fill="#3b8a6b"/>
<circle cx="487.9" cy="177.3" r="2.1" fill="#3b8a6b"/>
<circle cx="490" cy="159" r="2.1" fill="#3b8a6b"/>
<circle cx="581.7" cy="62.3" r="2.1" fill="#3b8a6b"/>
<circle cx="577.7" cy="72.2" r="2.1" fill="#3b8a6b"/>
<circle cx="581.7" cy="69.6" r="2.1" fill="#3b8a6b"/>
<circle cx="584.8" cy="71.4" r="2.1" fill="#3b8a6b"/>
<circle cx="581.7" cy="74" r="2.1" fill="#3b8a6b"/>
<circle cx="581.7" cy="104.8" r="2.1" fill="#3b8a6b"/>
<circle cx="581.7" cy="108.7" r="2.1" fill="#3b8a6b"/>
<circle cx="579.5" cy="75.5" r="2.1" fill="#3b8a6b"/>
<circle cx="675.3" cy="150" r="2.1" fill="#3b8a6b"/>
<circle cx="672.2" cy="153.2" r="2.1" fill="#3b8a6b"/>
<circle cx="677.8" cy="153.9" r="2.1" fill="#3b8a6b"/>
<circle cx="681.3" cy="154.2" r="2.1" fill="#3b8a6b"/>
<circle cx="672.2" cy="162.3" r="2.1" fill="#3b8a6b"/>
<circle cx="675" cy="163" r="2.1" fill="#3b8a6b"/>
<circle cx="681.3" cy="163" r="2.1" fill="#3b8a6b"/>
<circle cx="670" cy="158" r="2.1" fill="#3b8a6b"/>
<circle cx="768.5" cy="180.5" r="2.1" fill="#3b8a6b"/>
<circle cx="768.5" cy="187" r="2.1" fill="#3b8a6b"/>
<circle cx="771.1" cy="188.3" r="2.1" fill="#3b8a6b"/>
<circle cx="768.5" cy="190.9" r="2.1" fill="#3b8a6b"/>
<circle cx="768.5" cy="205.3" r="2.1" fill="#3b8a6b"/>
<circle cx="768.5" cy="211.8" r="2.1" fill="#3b8a6b"/>
<circle cx="768.5" cy="218.4" r="2.1" fill="#3b8a6b"/>
<circle cx="768.5" cy="224.9" r="2.1" fill="#3b8a6b"/>
<path d="M427.2,158.5 H432.40000000000003 M429.8,158.5 V160.9 M427.2,160.9 H432.40000000000003" stroke="#111" stroke-width="1.5" fill="none"/>
<path d="M456.0,160.2 H461.20000000000005 M458.6,160.2 V162.3 M456.0,162.3 H461.20000000000005" stroke="#111" stroke-width="1.5" fill="none"/>
<path d="M485.0,161.6 H490.20000000000005 M487.6,161.6 V165.1 M485.0,165.1 H490.20000000000005" stroke="#111" stroke-width="1.5" fill="none"/>
<path d="M521.0,72.5 H526.2 M523.6,72.5 V77.7 M521.0,77.7 H526.2" stroke="#111" stroke-width="1.5" fill="none"/>
<path d="M550.4,85.2 H555.6 M553,85.2 V92.3 M550.4,92.3 H555.6" stroke="#111" stroke-width="1.5" fill="none"/>
<path d="M579.1,75.3 H584.3000000000001 M581.7,75.3 V84.4 M579.1,84.4 H584.3000000000001" stroke="#111" stroke-width="1.5" fill="none"/>
<path d="M614.6,159.1 H619.8000000000001 M617.2,159.1 V161.6 M614.6,161.6 H619.8000000000001" stroke="#111" stroke-width="1.5" fill="none"/>
<path d="M643.8,156.7 H649.0 M646.4,156.7 V159.2 M643.8,159.2 H649.0" stroke="#111" stroke-width="1.5" fill="none"/>
<path d="M672.4,156.7 H677.6 M675,156.7 V159.5 M672.4,159.5 H677.6" stroke="#111" stroke-width="1.5" fill="none"/>
<path d="M708.3,198.2 H713.5 M710.9,198.2 V205.3 M708.3,205.3 H713.5" stroke="#111" stroke-width="1.5" fill="none"/>
<path d="M737.6,195.4 H742.8000000000001 M740.2,195.4 V201.4 M737.6,201.4 H742.8000000000001" stroke="#111" stroke-width="1.5" fill="none"/>
<path d="M766.4,195.4 H771.6 M769,195.4 V204 M766.4,204 H771.6" stroke="#111" stroke-width="1.5" fill="none"/>
<path d="M522.2,26.6 H582.9 M552.4,26.6 V21.3 H740.3 V38.4 M710.2,38.4 H770.3" stroke="#444" stroke-width="1.2" fill="none"/>
<path d="M522.2,47.1 H582.9 M552.4,47.1 V42.3 H646.5 V66.4 M616.2,66.4 H676.5" stroke="#444" stroke-width="1.2" fill="none"/>
<path d="M616.2,130.5 H676.4 M646,130.5 V125.6 H739.9 V141.4 M710.3,141.4 H769.7" stroke="#444" stroke-width="1.2" fill="none"/>
<path d="M522.3,169 H552.9" stroke="#444" stroke-width="1.2" fill="none"/>
<path d="M428.4,199.8 H488.8 M458.4,199.8 V204.9 H552.4 V189.8 M522.3,189.8 H582.7" stroke="#444" stroke-width="1.2" fill="none"/>
<path d="M428.4,221.5 H488.8 M458.4,221.5 V239.8 H740.2 V234.9 M710.4,234.9 H769.8" stroke="#444" stroke-width="1.2" fill="none"/>
<text x="646.5" y="24" text-anchor="middle" font-size="16" font-family="Liberation Sans, sans-serif" fill="#161616">*</text>
<text x="693.1" y="128.9" text-anchor="middle" font-size="16" font-family="Liberation Sans, sans-serif" fill="#161616">*</text>
<text x="538.1" y="183.8" text-anchor="middle" font-size="16" font-family="Liberation Sans, sans-serif" fill="#161616">*</text>
<text x="505.1" y="219.9" text-anchor="middle" font-size="16" font-family="Liberation Sans, sans-serif" fill="#161616">*</text>
<text x="599.6" y="254.8" text-anchor="middle" font-size="16" font-family="Liberation Sans, sans-serif" fill="#161616">*</text>
<text x="459.9" y="267.7" text-anchor="middle" font-size="13" font-family="Liberation Sans, sans-serif" fill="#161616">Baseline</text>
<text x="552.4" y="267.7" text-anchor="middle" font-size="13" font-family="Liberation Sans, sans-serif" fill="#161616">First Adaptation</text>
<text x="552.4" y="283.3" text-anchor="middle" font-size="13" font-family="Liberation Sans, sans-serif" fill="#161616">Trial</text>
<text x="646.4" y="267.7" text-anchor="middle" font-size="13" font-family="Liberation Sans, sans-serif" fill="#161616">Late</text>
<text x="646.4" y="283.3" text-anchor="middle" font-size="13" font-family="Liberation Sans, sans-serif" fill="#161616">Adaptation</text>
<text x="740.3" y="267.7" text-anchor="middle" font-size="13" font-family="Liberation Sans, sans-serif" fill="#161616">Post</text>
<text x="740.3" y="283.3" text-anchor="middle" font-size="13" font-family="Liberation Sans, sans-serif" fill="#161616">Adaptation</text>
</svg></body></html>
